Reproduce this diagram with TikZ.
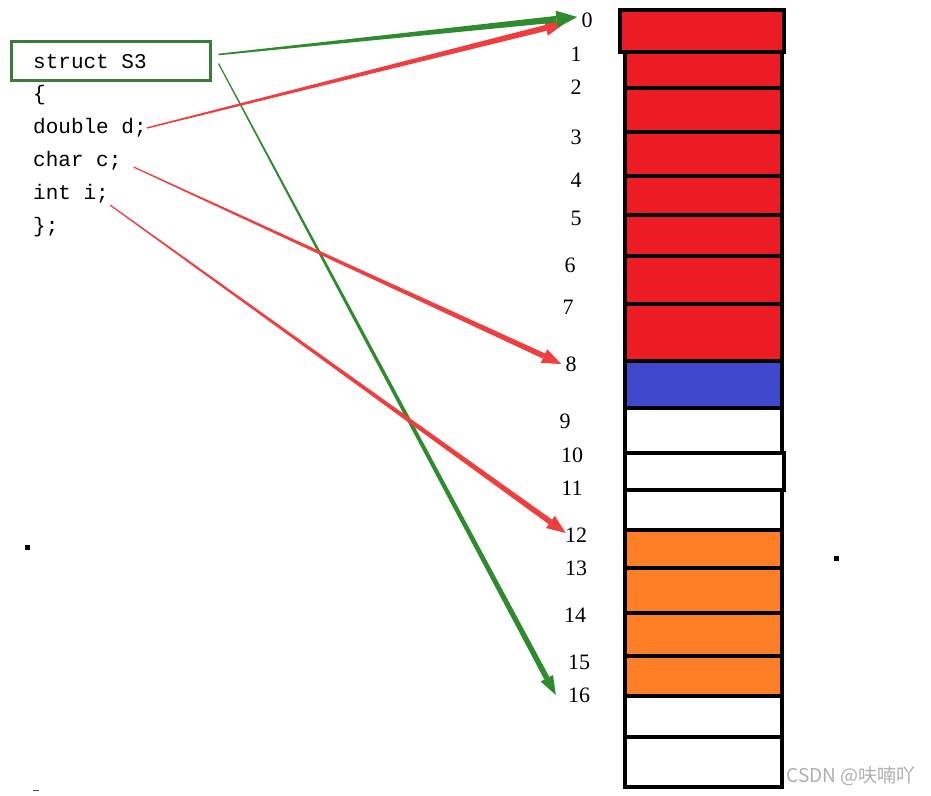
\documentclass[tikz,border=0pt]{standalone}
\usepackage{fontspec}
\setmainfont{Liberation Serif}
\newfontfamily\codefont{Liberation Mono}
\newfontfamily\cjk{Noto Sans CJK SC}
\usetikzlibrary{calc}
\definecolor{cellred}{RGB}{237,28,36}
\definecolor{cellblue}{RGB}{63,72,204}
\definecolor{cellorange}{RGB}{255,127,39}
\definecolor{boxgreen}{RGB}{58,125,58}
\definecolor{arrgreen}{RGB}{46,139,46}
\definecolor{arrred}{RGB}{240,62,62}
\definecolor{wmgrey}{RGB}{175,175,175}
\newcommand\taperarrow[7]{% #1 start, #2 tip, #3 w1, #4 w2, #5 colour, #6 head length, #7 head half width
  \coordinate (tmpB) at ($(#2)!#6pt!(#1)$);
  \fill[#5] ($(#1)!#3pt!90:(tmpB)$) -- ($(tmpB)!#4pt!-90:(#1)$) -- ($(tmpB)!#4pt!90:(#1)$) -- ($(#1)!#3pt!-90:(tmpB)$) -- cycle;
  \fill[#5] (#2) -- ($(tmpB)!#7pt!-90:(#1)$) -- ($(tmpB)!#7pt!90:(#1)$) -- cycle;
}
\begin{document}
\begin{tikzpicture}[x=1pt,y=-1pt,
  code/.style={anchor=west,inner sep=0pt,font=\codefont\fontsize{21}{25}\selectfont},
  num/.style={inner sep=0pt,font=\fontsize{22}{26}\selectfont},
  cell/.style={draw=black,line width=4.5pt},
  greenbox/.style={draw=boxgreen,line width=3pt,minimum width=199pt,minimum height=39pt,inner sep=0pt}]
\useasboundingbox (0,0) rectangle (931,795);
\fill[white] (0,0) rectangle (931,795);

% code
\node[greenbox] (box) at (110.5,60.5) {};
\node[code] (s) at (33,62) {struct S3};
\node[code] (ob) at (33,95) {\{};
\node[code] (d) at (33,128) {double d;};
\node[code] (c) at (33,161) {char c;};
\node[code] (i) at (33,194) {int i;};
\node[code] (cb) at (33,227) {\};};

% memory cells
\draw[cell,fill=cellred] (625,52) rectangle (782,88);
\draw[cell,fill=cellred] (625,88) rectangle (782,132);
\draw[cell,fill=cellred] (625,132) rectangle (782,176);
\draw[cell,fill=cellred] (625,176) rectangle (782,215);
\draw[cell,fill=cellred] (625,215) rectangle (782,256);
\draw[cell,fill=cellred] (625,256) rectangle (782,304);
\draw[cell,fill=cellred] (625,304) rectangle (782,361);
\draw[cell,fill=cellblue] (625,361) rectangle (782,408);
\draw[cell,fill=white] (625,408) rectangle (782,453);
\draw[cell,fill=white] (625,453) rectangle (784,490);
\draw[cell,fill=white] (625,490) rectangle (782,530);
\draw[cell,fill=cellorange] (625,530) rectangle (782,568);
\draw[cell,fill=cellorange] (625,568) rectangle (782,613);
\draw[cell,fill=cellorange] (625,613) rectangle (782,656);
\draw[cell,fill=cellorange] (625,656) rectangle (782,696);
\draw[cell,fill=white] (625,696) rectangle (782,737);
\draw[cell,fill=white] (625,737) rectangle (782,787);
\draw[cell,fill=cellred] (620,10) rectangle (784,52);

% offset labels
\node[num] (l0) at (587,20) {0};
\node[num] (l1) at (576,54) {1};
\node[num] (l2) at (576,87) {2};
\node[num] (l3) at (576,137) {3};
\node[num] (l4) at (576,180) {4};
\node[num] (l5) at (576,218) {5};
\node[num] (l6) at (570,265) {6};
\node[num] (l7) at (568,307) {7};
\node[num] (l8) at (571,364) {8};
\node[num] (l9) at (565,421) {9};
\node[num] (l10) at (572,455) {10};
\node[num] (l11) at (572,488) {11};
\node[num] (l12) at (576,535) {12};
\node[num] (l13) at (576,568) {13};
\node[num] (l14) at (575,615) {14};
\node[num] (l15) at (579,662) {15};
\node[num] (l16) at (579,695) {16};

% arrow endpoints
\coordinate (sg0) at ($(box.east)+(7,-6)$);
\coordinate (sg16) at ($(box.east)+(7,3)$);
\coordinate (sd) at ($(d.east)+(0,0)$);
\coordinate (sc) at ($(c.east)+(12,6)$);
\coordinate (si) at ($(i.east)+(1,11)$);
\coordinate (t0g) at ($(l0.west)+(-4,-3)$);
\coordinate (t0r) at ($(l0.west)+(-16,3)$);
\coordinate (t8) at ($(l8.west)+(-4,0)$);
\coordinate (t12) at ($(l12.west)+(1,-2)$);
\coordinate (t16) at ($(l16.west)+(-12,0)$);

% arrows
\taperarrow{sg16}{t16}{0.6}{2.8}{arrgreen}{19}{7}
\taperarrow{si}{t12}{0.6}{2.8}{arrred}{19}{7.5}
\taperarrow{sc}{t8}{0.6}{2.8}{arrred}{19}{7.5}
\taperarrow{sd}{t0r}{0.7}{3}{arrred}{20}{8}
\taperarrow{sg0}{t0g}{0.8}{3.3}{arrgreen}{21}{8.5}

% small marks
\fill[black] (25,545) rectangle (30,550);
\fill[black] (834,556) rectangle (839,561);
\fill[black!70] (33,790) rectangle (39,791);

% watermark
\node[inner sep=0pt,text=wmgrey,font=\cjk\fontsize{19}{22}\selectfont] (wm) at (851,776) {CSDN @呋喃吖};
\end{tikzpicture}
\end{document}
